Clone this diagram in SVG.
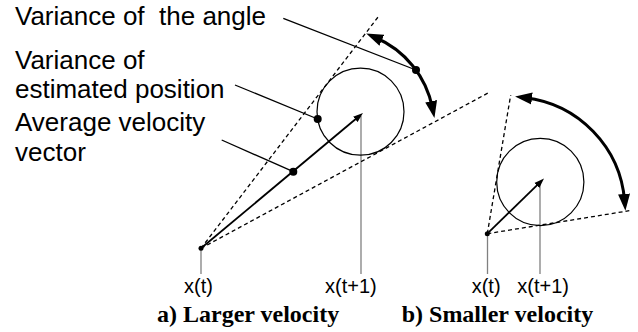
<svg xmlns="http://www.w3.org/2000/svg" width="638" height="332" viewBox="0 0 638 332">
<style>
.lbl{font-family:"Liberation Sans",Arial,sans-serif;font-size:26px;fill:#000}
.ax{font-family:"Liberation Sans",Arial,sans-serif;font-size:20px;fill:#000}
.cap{font-family:"Liberation Serif","Times New Roman",serif;font-size:24px;font-weight:bold;fill:#000}
.dash{fill:none;stroke:#000;stroke-width:1.3;stroke-dasharray:4 3}
.circ{fill:none;stroke:#000;stroke-width:1.2}
.vec{fill:none;stroke:#000;stroke-width:1.8;marker-end:url(#small)}
.arc{fill:none;stroke:#000;stroke-width:3;marker-start:url(#big);marker-end:url(#big)}
.gray{fill:none;stroke:#808080;stroke-width:1.3}
.lead{fill:none;stroke:#000;stroke-width:1.3}
.dot{fill:#000}
</style>
<defs>
<marker id="big" markerUnits="userSpaceOnUse" markerWidth="20" markerHeight="14" viewBox="0 -7 20 14" refX="7" refY="0" orient="auto-start-reverse"><path d="M0,-6 L17,0 L0,6 z" fill="#000"/></marker>
<marker id="small" markerUnits="userSpaceOnUse" markerWidth="12" markerHeight="8" viewBox="0 -4 12 8" refX="4" refY="0" orient="auto"><path d="M0,-3.5 L10,0 L0,3.5 z" fill="#000"/></marker>
</defs>
<rect width="638" height="332" fill="#fff"/>

<g id="label-angle"><text class="lbl" x="15" y="25" xml:space="preserve">Variance of  the angle</text></g>
<g id="label-position"><text class="lbl" x="15" y="68.8">Variance of<tspan x="15" dy="29.2">estimated position</tspan></text></g>
<g id="label-velocity"><text class="lbl" x="15" y="131.3">Average velocity<tspan x="15" dy="29.2">vector</tspan></text></g>

<g id="panel-a">
<line class="gray" x1="201" y1="248" x2="201" y2="274"/>
<line class="gray" x1="361" y1="116" x2="361" y2="274"/>
<line class="dash" x1="201" y1="248.3" x2="378.3" y2="16.7"/>
<line class="dash" x1="201" y1="248.3" x2="488" y2="93"/>
<circle class="circ" cx="360.5" cy="111.7" r="43.5"/>
<line class="vec" x1="201" y1="248.3" x2="358.4" y2="116.8"/>
<path class="arc" d="M375.4,37.5 A97.4,97.4 0 0 1 432.5,108.1"/>
<circle class="dot" cx="201" cy="248.3" r="2.5"/>
<text class="ax" x="184" y="292.5">x(t)</text>
<text class="ax" x="325" y="292.5">x(t+1)</text>
<text class="cap" x="157" y="321.7">a) Larger velocity</text>
</g>

<g id="panel-b">
<line class="gray" x1="487.5" y1="234" x2="487.5" y2="274"/>
<line class="gray" x1="540" y1="182" x2="540" y2="274"/>
<line class="dash" x1="487.3" y1="233.7" x2="510.7" y2="95"/>
<line class="dash" x1="487.3" y1="233.7" x2="629.3" y2="210.7"/>
<circle class="circ" cx="540.3" cy="182" r="43.6"/>
<line class="vec" x1="487.3" y1="233.7" x2="539.7" y2="182.7"/>
<path class="arc" d="M525,97.7 A113,113 0 0 1 624.6,200.9"/>
<circle class="dot" cx="487.3" cy="233.7" r="2.5"/>
<text class="ax" x="471.7" y="292.5">x(t)</text>
<text class="ax" x="517.3" y="292.5">x(t+1)</text>
<text class="cap" x="401.7" y="321.7">b) Smaller velocity</text>
</g>

<g id="connectors">
<line class="lead" x1="283.3" y1="18.3" x2="416" y2="70"/>
<line class="lead" x1="235" y1="85" x2="317.7" y2="119"/>
<line class="lead" x1="221.7" y1="140" x2="293.3" y2="171.7"/>
<circle class="dot" cx="416" cy="70" r="4"/>
<circle class="dot" cx="317.7" cy="119" r="4"/>
<circle class="dot" cx="293.3" cy="171.7" r="4"/>
</g>
</svg>
